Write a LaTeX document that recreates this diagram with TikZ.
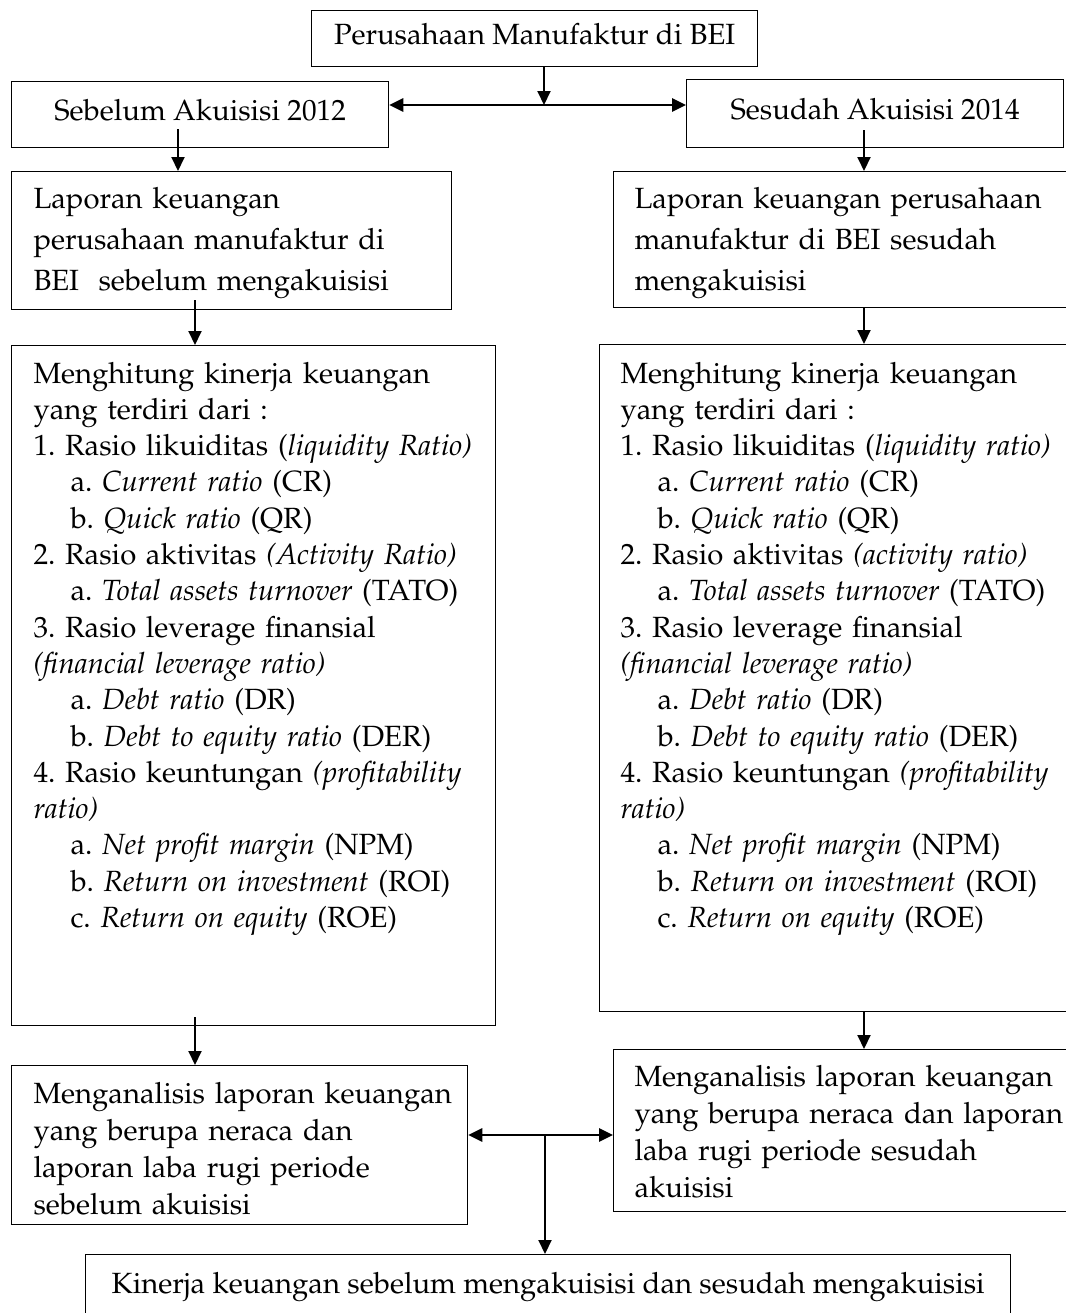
\documentclass[tikz,border=0pt]{standalone}
\usepackage[T1]{fontenc}
\renewcommand{\rmdefault}{ppl}
\usetikzlibrary{arrows.meta}
\frenchspacing
\newcommand{\butir}{\hspace*{14.8pt}}
\newcommand{\ukuran}[1]{\fontsize{11.7}{#1}\selectfont}

\begin{document}
\begin{tikzpicture}[x=0.4pt, y=-0.4pt,
	kotak/.style={draw, line width=0.5pt, anchor=north west, inner sep=0pt},
	judul/.style={kotak, text height=8.8pt, text depth=4pt, font=\ukuran{14.5}},
	isi/.style={anchor=base west, inner sep=0pt, align=left, text width=260pt},
	panah/.style={-{Triangle[length=5.6pt,width=5.2pt]}, line width=0.8pt},
	panahdua/.style={{Triangle[length=5.6pt,width=5.2pt]}-{Triangle[length=5.6pt,width=5.2pt]}, line width=1.1pt}]
	\useasboundingbox (0,0) rectangle (1066,1313);
	% judul
	\node[judul, minimum width=178.4pt, minimum height=22.4pt] (atas) at (311,10) {Perusahaan Manufaktur di BEI};
	\node[judul, minimum width=150.8pt, minimum height=26.4pt] (sebelum) at (11,81) {Sebelum Akuisisi 2012};
	\node[judul, minimum width=150.8pt, minimum height=27.2pt] (sesudah) at (686,79) {Sesudah Akuisisi 2014};
	% laporan keuangan
	\node[kotak, minimum width=176pt, minimum height=55.2pt] (lapkiri) at (11,171) {};
	\node[isi, font=\ukuran{16.4}] (tlapkiri) at (33,208)
		{Laporan keuangan\\perusahaan manufaktur di\\BEI\ \ sebelum mengakuisisi};
	\node[kotak, minimum width=200pt, minimum height=54.4pt] (lapkanan) at (613,171) {};
	\node[isi, font=\ukuran{16.4}] (tlapkanan) at (634,208)
		{Laporan keuangan perusahaan\\manufaktur di BEI sesudah\\mengakuisisi};
	% kinerja keuangan
	\node[kotak, minimum width=193.6pt, minimum height=272pt] (besarkiri) at (11,345) {};
	\node[isi, font=\ukuran{14.52}] (tbesarkiri) at (33,383)
		{Menghitung kinerja keuangan\\
		yang terdiri dari :\\
		1. Rasio likuiditas (\textit{liquidity Ratio)}\\
		\butir a. \textit{Current ratio} (CR)\\
		\butir b. \textit{Quick ratio} (QR)\\
		2. Rasio aktivitas \textit{(Activity Ratio)}\\
		\butir a. \textit{Total assets turnover} (TATO)\\
		3. Rasio leverage finansial\\
		\textit{(financial leverage ratio)}\\
		\butir a. \textit{Debt ratio} (DR)\\
		\butir b. \textit{Debt to equity ratio} (DER)\\
		4. Rasio keuntungan \textit{(profitability}\\
		\textit{ratio)}\\
		\butir a. \textit{Net profit margin} (NPM)\\
		\butir b. \textit{Return on investment} (ROI)\\
		\butir c. \textit{Return on equity} (ROE)};
	\node[kotak, minimum width=208pt, minimum height=266.8pt] (besarkanan) at (599,344) {};
	\node[isi, font=\ukuran{14.52}] (tbesarkanan) at (620,383)
		{Menghitung kinerja keuangan\\
		yang terdiri dari :\\
		1. Rasio likuiditas (\textit{liquidity ratio)}\\
		\butir a. \textit{Current ratio} (CR)\\
		\butir b. \textit{Quick ratio} (QR)\\
		2. Rasio aktivitas \textit{(activity ratio)}\\
		\butir a. \textit{Total assets turnover} (TATO)\\
		3. Rasio leverage finansial\\
		\textit{(financial leverage ratio)}\\
		\butir a. \textit{Debt ratio} (DR)\\
		\butir b. \textit{Debt to equity ratio} (DER)\\
		4. Rasio keuntungan \textit{(profitability}\\
		\textit{ratio)}\\
		\butir a. \textit{Net profit margin} (NPM)\\
		\butir b. \textit{Return on investment} (ROI)\\
		\butir c. \textit{Return on equity} (ROE)};
	% analisis
	\node[kotak, minimum width=182.4pt, minimum height=63.6pt] (mengkiri) at (11,1065) {};
	\node[isi, font=\ukuran{14.8}] (tmengkiri) at (33,1103)
		{Menganalisis laporan keuangan\\yang berupa neraca dan\\laporan laba rugi periode\\sebelum akuisisi};
	\node[kotak, minimum width=200pt, minimum height=64.8pt] (mengkanan) at (613,1049) {};
	\node[isi, font=\ukuran{14.8}] (tmengkanan) at (634,1086)
		{Menganalisis laporan keuangan\\yang berupa neraca dan laporan\\laba rugi periode sesudah\\akuisisi};
	\node[judul, minimum width=370pt, minimum height=26.4pt] (bawah) at (85,1254)
		{Kinerja keuangan sebelum mengakuisisi dan sesudah mengakuisisi};
	% panah
	\coordinate (cabang) at (544,105);
	\coordinate (cabangdua) at (545,1135);
	\coordinate (a1) at (178,129);
	\coordinate (a2) at (864,130);
	\coordinate (a3) at (195,300);
	\coordinate (a5) at (195,1017);
	\draw[panah] (cabang |- atas.south) -- (cabang);
	\draw[panahdua] (cabang -| sebelum.east) -- (cabang -| sesudah.west);
	\draw[panah] (a1) -- (a1 |- lapkiri.north);
	\draw[panah] (a2) -- (a2 |- lapkanan.north);
	\draw[panah] (a3) -- (a3 |- besarkiri.north);
	\draw[panah] (a2 |- lapkanan.south) -- (a2 |- besarkanan.north);
	\draw[panah] (a5) -- (a5 |- mengkiri.north);
	\draw[panah] (a2 |- besarkanan.south) -- (a2 |- mengkanan.north);
	\draw[panahdua] (cabangdua -| mengkiri.east) -- (cabangdua -| mengkanan.west);
	\draw[panah] (cabangdua) -- (cabangdua |- bawah.north);
\end{tikzpicture}
\end{document}
